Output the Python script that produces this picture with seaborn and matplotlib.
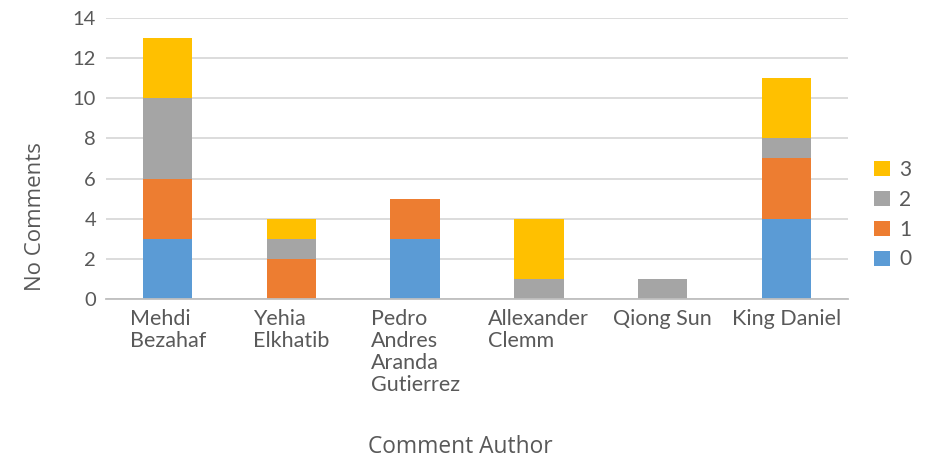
import matplotlib
matplotlib.use("Agg")
import matplotlib.pyplot as plt
import seaborn as sns
import numpy as np
import pandas as pd
from matplotlib.patches import Patch

authors = ["Mehdi\nBezahaf", "Yehia\nElkhatib", "Pedro\nAndres\nAranda\nGutierrez",
           "Allexander\nClemm", "Qiong Sun", "King Daniel"]
s0 = [3, 0, 3, 0, 0, 4]
s1 = [3, 2, 2, 0, 0, 3]
s2 = [4, 1, 0, 1, 1, 1]
s3 = [3, 1, 0, 3, 0, 3]
series_names = ["0", "1", "2", "3"]
colors = ["#5B9BD5", "#ED7D31", "#A5A5A5", "#FFC000"]

sns.set_theme(style="white")
plt.rcParams["font.family"] = ["Lato", "DejaVu Sans"]
text_color = "#595959"

fig, ax = plt.subplots(figsize=(9.28, 4.58), dpi=100)
fig.subplots_adjust(left=0.114, right=0.914, top=0.961, bottom=0.347)

series = [s0, s1, s2, s3]
cum = np.cumsum(np.array(series), axis=0)
xlabels = [f"c{i}" for i in range(len(authors))]
for k in range(3, -1, -1):
    df = pd.DataFrame({"author": xlabels, "value": cum[k]})
    sns.barplot(data=df, x="author", y="value", color=colors[k], width=0.4,
                saturation=1, ax=ax, zorder=3, linewidth=0)

ax.set_xticks(range(len(authors)))
ax.set_xticklabels(authors, multialignment="left", fontsize=15.5, color=text_color,
                   linespacing=1.12)
ax.set_xlim(-0.5, len(authors) - 0.5)
ax.set_ylim(0, 14)
ax.set_yticks(range(0, 15, 2))
ax.tick_params(axis="y", labelsize=14.5, colors=text_color, length=0, pad=7)
ax.tick_params(axis="x", length=0, pad=7)
ax.yaxis.grid(True, color="#D9D9D9", linewidth=1.3, zorder=0)
ax.set_axisbelow(True)
for sp in ["top", "right", "left"]:
    ax.spines[sp].set_visible(False)
ax.spines["bottom"].set_color("#BFBFBF")
ax.spines["bottom"].set_linewidth(1.3)
ax.spines["bottom"].set_zorder(4)

ax.set_ylabel("No Comments", fontsize=16, color=text_color, family=["Open Sans", "DejaVu Sans"])
ax.yaxis.set_label_coords(-0.080, 0.292)
ax.set_xlabel("Comment Author", fontsize=16.4, color=text_color, family=["Open Sans", "DejaVu Sans"])
ax.xaxis.set_label_coords(0.477, -0.484)

handles = [Patch(facecolor=colors[k], edgecolor="none", label=series_names[k]) for k in range(3, -1, -1)]
leg = ax.legend(handles=handles, loc="center left", bbox_to_anchor=(1.01, 0.3),
                frameon=False, fontsize=15, handlelength=0.75, handleheight=0.75,
                labelspacing=0.47, handletextpad=0.45)
for t in leg.get_texts():
    t.set_color(text_color)

fig.savefig("out.png", dpi=100, facecolor="white")
